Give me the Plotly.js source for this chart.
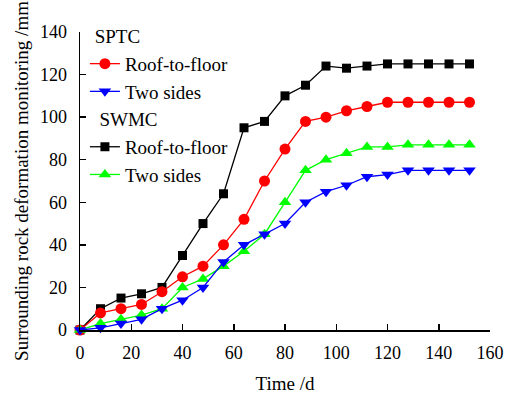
<!DOCTYPE html>
<html>
<head>
<meta charset="utf-8">
<script src="https://cdn.plot.ly/plotly-3.0.1.min.js"></script>
<style>html,body{margin:0;padding:0;background:#fff;}#chart{width:507px;height:394px;}</style>
</head>
<body>
<div id="chart"></div>
<script>
const days = [0, 8, 16, 24, 32, 40, 48, 56, 64, 72, 80, 88, 96, 104, 112, 120, 128, 136, 144, 152];
const sptcRoofFloor = [0, 8, 10, 12, 18, 25, 30, 40, 52, 70, 85, 98, 100, 103, 105, 107, 107, 107, 107, 107];
const sptcTwoSides = [0, 1, 3, 5, 10, 14, 20, 32, 40, 45, 50, 60, 65, 68, 72, 73, 75, 75, 75, 75];
const swmcRoofFloor = [0, 10, 15, 17, 20, 35, 50, 64, 95, 98, 110, 115, 124, 123, 124, 125, 125, 125, 125, 125];
const swmcTwoSides = [0, 3, 5, 7, 10, 20, 24, 30, 37, 45, 60, 75, 80, 83, 86, 86, 87, 87, 87, 87];
const groupNames = ["SPTC", "SWMC"];
const groupTitles = ["\u00a0SPTC", "\u00a0\u00a0SWMC"];
const seriesNames = ["Roof-to-floor", "Two sides"];

const FONT = "Liberation Serif, Times New Roman, serif";

function tr(y, name, group, title, color, symbol, size, lgrank) {
  return {
    x: days, y: y, name: name, type: "scatter", mode: "lines+markers",
    legendgroup: group,
    legendgrouptitle: {text: title, font: {family: FONT, size: 19, color: "#000"}},
    legendrank: lgrank,
    line: {color: color, width: 1.3},
    marker: {color: color, symbol: symbol, size: size, line: {width: 0}},
    cliponaxis: false
  };
}

const data = [
  tr(swmcRoofFloor, seriesNames[0], groupNames[1], groupTitles[1], "#000000", "square", 9, 3),
  tr(sptcRoofFloor, seriesNames[0], groupNames[0], groupTitles[0], "#ff0000", "circle", 11, 1),
  tr(swmcTwoSides, seriesNames[1], groupNames[1], groupTitles[1], "#00ff00", "triangle-up", 11, 4),
  tr(sptcTwoSides, seriesNames[1], groupNames[0], groupTitles[0], "#0000ff", "triangle-down", 11, 2)
];

const layout = {
  width: 507, height: 394,
  margin: {l: 80, r: 17, t: 32, b: 64},
  paper_bgcolor: "#fff", plot_bgcolor: "#fff",
  font: {family: FONT, size: 18, color: "#000"},
  showlegend: true,
  legend: {
    x: 0.012, y: 1.05, xanchor: "left", yanchor: "top",
    bgcolor: "rgba(0,0,0,0)", tracegroupgap: 0,
    font: {family: FONT, size: 19, color: "#000"},
    traceorder: "grouped"
  },
  xaxis: {
    range: [0, 160], dtick: 20, tick0: 0,
    showgrid: false, zeroline: false,
    showline: true, linecolor: "#000", linewidth: 1.5,
    ticks: "inside", ticklen: 6, tickwidth: 1.5, tickcolor: "#000",
    ticklabelstandoff: 6,
    tickfont: {family: FONT, size: 18, color: "#000"},
    title: {text: "Time /d", font: {family: FONT, size: 19, color: "#000"}, standoff: 14}
  },
  yaxis: {
    range: [0, 140], dtick: 20, tick0: 0,
    showgrid: false, zeroline: false,
    showline: true, linecolor: "#000", linewidth: 1.5,
    ticks: "inside", ticklen: 6, tickwidth: 1.5, tickcolor: "#000",
    ticklabelstandoff: 8,
    tickfont: {family: FONT, size: 18, color: "#000"},
    title: {text: "Surrounding rock deformation monitoring /mm", font: {family: FONT, size: 19, color: "#000"}, standoff: 6}
  }
};

Plotly.newPlot("chart", data, layout, {displayModeBar: false, staticPlot: true});
</script>
</body>
</html>
